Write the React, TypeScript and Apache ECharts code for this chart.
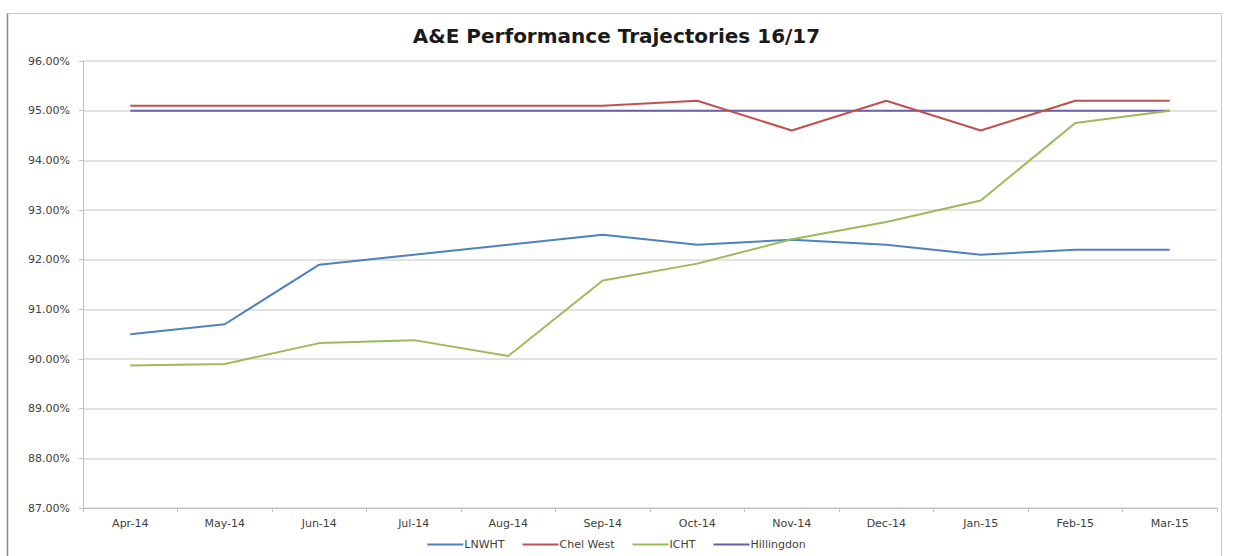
import React, { useEffect, useRef } from "react";
import * as echarts from "echarts";

const categories = ["Apr-14", "May-14", "Jun-14", "Jul-14", "Aug-14", "Sep-14", "Oct-14", "Nov-14", "Dec-14", "Jan-15", "Feb-15", "Mar-15"];
const lnwht = [90.5, 90.7, 91.9, 92.1, 92.3, 92.5, 92.3, 92.4, 92.3, 92.1, 92.2, 92.2];
const chelWest = [95.1, 95.1, 95.1, 95.1, 95.1, 95.1, 95.2, 94.6, 95.2, 94.6, 95.2, 95.2];
const icht = [89.87, 89.9, 90.32, 90.38, 90.06, 91.58, 91.92, 92.41, 92.76, 93.19, 94.75, 95.0];
const hillingdon = [95.0, 95.0, 95.0, 95.0, 95.0, 95.0, 95.0, 95.0, 95.0, 95.0, 95.0, 95.0];
const seriesNames = ["LNWHT", "Chel West", "ICHT", "Hillingdon"];
const colors = ["#4F81BD", "#C0504D", "#9BBB59", "#6B5EA8"];
const title = "A&E Performance Trajectories 16/17";

export default function App() {
  const ref = useRef<HTMLDivElement>(null);
  useEffect(() => {
    if (!ref.current) return;
    const chart = echarts.init(ref.current, undefined, { renderer: "svg" });
    const data = [lnwht, chelWest, icht, hillingdon];
    const font = "'DejaVu Sans', 'Noto Sans', sans-serif";
    chart.setOption({
      animation: false,
      backgroundColor: "#ffffff",
      title: {
        text: title,
        left: "center",
        top: 21,
        textStyle: { fontSize: 20, fontWeight: "bold", color: "#1a1a1a", fontFamily: font },
      },
      graphic: [
        {
          type: "rect",
          shape: { x: 7.5, y: 13.5, width: 1214, height: 560 },
          style: { fill: "none", stroke: "#c8c8c8", lineWidth: 1 },
          silent: true,
          z: -1,
        },
        {
          type: "line",
          shape: { x1: 7.5, y1: 13.5, x2: 7.5, y2: 556 },
          style: { stroke: "#8a8a8a", lineWidth: 1.5 },
          silent: true,
        },
      ],
      legend: {
        data: seriesNames,
        bottom: 1,
        left: "center",
        icon: "rect",
        itemWidth: 36,
        itemHeight: 2,
        itemGap: 18,
        itemTextStyle: {},
        textStyle: { fontSize: 11, color: "#404040", fontFamily: font, padding: [0, 0, 0, -4] },
      },
      grid: { left: 83, right: 16, top: 61, bottom: 48 },
      xAxis: {
        type: "category",
        data: categories,
        boundaryGap: true,
        axisLine: { lineStyle: { color: "#c0c0c0", width: 1 } },
        axisTick: { show: true, alignWithLabel: false, length: 4, lineStyle: { color: "#c0c0c0" } },
        axisLabel: { fontSize: 11, color: "#404040", margin: 10, fontFamily: font },
      },
      yAxis: {
        type: "value",
        min: 87,
        max: 96,
        interval: 1,
        axisLine: { show: true, lineStyle: { color: "#c0c0c0", width: 1 } },
        axisTick: { show: true, length: 4, lineStyle: { color: "#c0c0c0" } },
        splitLine: { lineStyle: { color: "#d9d9d9", width: 1.5 } },
        axisLabel: {
          fontSize: 11,
          color: "#404040",
          margin: 13,
          fontFamily: font,
          formatter: (v: number) => v.toFixed(2) + "%",
        },
      },
      series: seriesNames.map((name, i) => ({
        name,
        type: "line",
        data: data[i],
        symbol: "none",
        lineStyle: { color: colors[i], width: 2 },
        itemStyle: { color: colors[i] },
        z: i === 3 ? 1 : 2 + i,
      })),
    });
    return () => chart.dispose();
  }, []);
  return <div ref={ref} style={{ position: "absolute", left: 0, top: 0, width: 1233, height: 556 }} />;
}
